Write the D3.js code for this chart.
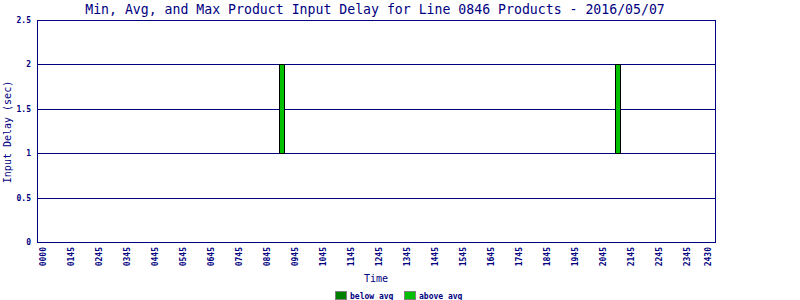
<!DOCTYPE html>
<html>
<head>
<meta charset="utf-8">
<script src="https://cdn.jsdelivr.net/npm/d3@7"></script>
<style>
  body { margin: 0; background: #fff; }
  svg { display: block; font-family: "DejaVu Sans Mono", monospace; }
</style>
</head>
<body>
<div id="chart"></div>
<script>
// time of each product bar, in minutes after midnight
const barTimes = [557, 1278];
const minDelay = [1, 1];
const avgDelay = [1, 1];
const maxDelay = [2, 2];

const tickMinutes = [45, 105, 165, 225, 285, 345, 405, 465, 525, 585, 645, 705, 765, 825,
  885, 945, 1005, 1065, 1125, 1185, 1245, 1305, 1365, 1425, 1470];
const tickLabels = ["0000", "0145", "0245", "0345", "0445", "0545", "0645", "0745", "0845",
  "0945", "1045", "1145", "1245", "1345", "1445", "1545", "1645", "1745", "1845", "1945",
  "2045", "2145", "2245", "2345", "2430"];
const yTicks = [0, 0.5, 1, 1.5, 2, 2.5];
const legendLabels = ["below avg", "above avg"];

const width = 800;
const height = 300;
const plotLeft = 37, plotRight = 715, plotTop = 20, plotBottom = 242;
const navy = "#000080";
const colors = ["#008000", "#00c000"];

const svg = d3.select("#chart").append("svg")
  .attr("width", width)
  .attr("height", height);

const x = d3.scaleLinear().domain([32, 1486]).range([plotLeft, plotRight]);
const y = d3.scaleLinear().domain([0, 2.5]).range([plotBottom, plotTop]);

// title
svg.append("text")
  .attr("x", 375)
  .attr("y", 14)
  .attr("text-anchor", "middle")
  .style("font-size", "13.2px")
  .style("fill", navy)
  .text("Min, Avg, and Max Product Input Delay for Line 0846 Products - 2016/05/07");

// grid lines
svg.append("g")
  .selectAll("line")
  .data(yTicks.slice(1, -1))
  .enter()
  .append("line")
  .attr("x1", plotLeft)
  .attr("x2", plotRight)
  .attr("y1", d => Math.round(y(d)) + 0.5)
  .attr("y2", d => Math.round(y(d)) + 0.5)
  .style("stroke", navy)
  .style("shape-rendering", "crispEdges");

// bars: min->avg (below avg) and avg->max (above avg)
const bars = svg.append("g");
barTimes.forEach((t, i) => {
  const segs = [[minDelay[i], avgDelay[i]], [avgDelay[i], maxDelay[i]]];
  segs.forEach((s, j) => {
    if (s[1] <= s[0]) return;
    bars.append("rect")
      .attr("x", Math.round(x(t)) - 2.5)
      .attr("y", Math.round(y(s[1])) + 0.5)
      .attr("width", 5)
      .attr("height", Math.round(y(s[0])) - Math.round(y(s[1])))
      .style("fill", colors[j])
      .style("stroke", "#000")
      .style("shape-rendering", "crispEdges");
  });
});

// frame
svg.append("rect")
  .attr("x", plotLeft + 0.5)
  .attr("y", plotTop + 0.5)
  .attr("width", plotRight - plotLeft)
  .attr("height", plotBottom - plotTop)
  .style("fill", "none")
  .style("stroke", navy)
  .style("shape-rendering", "crispEdges");

// y axis
const yAxis = d3.axisLeft(y).tickValues(yTicks).tickSize(0).tickPadding(6)
  .tickFormat(d3.format("~g"));
const yg = svg.append("g")
  .attr("transform", "translate(" + plotLeft + ",0)")
  .call(yAxis);
yg.select(".domain").remove();
yg.selectAll("text")
  .style("font-size", "8px")
  .style("font-weight", "bold")
  .style("fill", navy)
  .style("font-family", "DejaVu Sans Mono, monospace");

// x axis
const xAxis = d3.axisBottom(x).tickValues(tickMinutes).tickSize(0)
  .tickFormat((d, i) => tickLabels[i]);
const xg = svg.append("g")
  .attr("transform", "translate(0," + plotBottom + ")")
  .call(xAxis);
xg.select(".domain").remove();
xg.selectAll("text")
  .attr("transform", "rotate(-90)")
  .attr("x", -5)
  .attr("y", 0)
  .attr("dy", "0.35em")
  .style("text-anchor", "end")
  .style("font-size", "8px")
  .style("font-weight", "bold")
  .style("fill", navy)
  .style("font-family", "DejaVu Sans Mono, monospace");

// axis titles
svg.append("text")
  .attr("x", (plotLeft + plotRight) / 2)
  .attr("y", 282)
  .attr("text-anchor", "middle")
  .style("font-size", "10px")
  .style("fill", navy)
  .text("Time");

svg.append("text")
  .attr("transform", "rotate(-90)")
  .attr("x", -132)
  .attr("y", 11)
  .attr("text-anchor", "middle")
  .style("font-size", "10px")
  .style("fill", navy)
  .text("Input Delay (sec)");

// legend
const legend = svg.append("g").selectAll("g")
  .data(legendLabels)
  .enter()
  .append("g")
  .attr("transform", (d, i) => "translate(" + (335 + i * 69) + ",291)");

legend.append("rect")
  .attr("x", 0.5)
  .attr("y", 0.5)
  .attr("width", 11)
  .attr("height", 8)
  .style("fill", (d, i) => colors[i])
  .style("stroke", "#808080")
  .style("shape-rendering", "crispEdges");

legend.append("text")
  .attr("x", 15)
  .attr("y", 7.5)
  .style("font-size", "8px")
  .style("font-weight", "bold")
  .style("fill", navy)
  .text(d => d);
</script>
</body>
</html>
